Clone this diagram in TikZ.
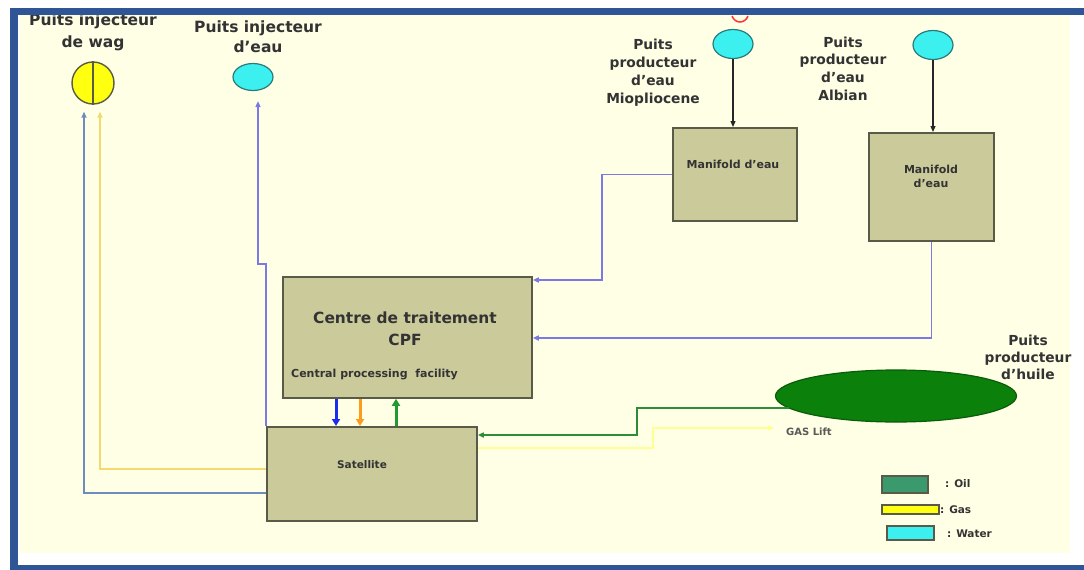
\documentclass[tikz,border=0pt]{standalone}
\usepackage{fontspec}
\setmainfont{DejaVu Sans}
\usetikzlibrary{arrows.meta,calc,shapes.geometric}

\definecolor{frameblue}{HTML}{2F5597}
\definecolor{cream}{HTML}{FFFFE6}
\definecolor{boxfill}{HTML}{CBCA9B}
\definecolor{boxline}{HTML}{5A5A48}
\definecolor{wellcyan}{HTML}{3CF0F0}
\definecolor{wellcyanline}{HTML}{2A7A7A}
\definecolor{wagyellow}{HTML}{FFFF10}
\definecolor{oilgreen}{HTML}{0B800B}
\definecolor{oilline}{HTML}{0A5C0A}
\definecolor{waterline}{HTML}{7B78E8}
\definecolor{steelline}{HTML}{6E8CC0}
\definecolor{gasline}{HTML}{F2DA6E}
\definecolor{liftline}{HTML}{FFFF90}
\definecolor{greenline}{HTML}{2E8B3A}
\definecolor{txt}{HTML}{333333}
\definecolor{legendoil}{HTML}{3A9A6E}
\definecolor{pumpblue}{HTML}{1A2CF0}
\definecolor{pumporange}{HTML}{FF9A1A}
\definecolor{pumpgreen}{HTML}{229A33}

\tikzset{
  procbox/.style={draw=boxline, line width=1.8pt, fill=boxfill, inner sep=0pt, anchor=north west},
  wellcyan/.style={ellipse, draw=wellcyanline, line width=1.2pt, fill=wellcyan, inner sep=0pt},
  lbl/.style={text=txt, font=\bfseries, align=center, inner sep=0pt, anchor=base},
  thinhead/.style={-{Triangle[length=6pt,width=5pt]}},
  wline/.style={draw=waterline, line width=1.5pt, thinhead},
  steelflow/.style={draw=steelline, line width=2pt, thinhead},
  gasflow/.style={draw=gasline, line width=2.5pt, thinhead},
  liftflow/.style={draw=liftline, line width=2pt, thinhead},
  oilflow/.style={draw=greenline, line width=2.2pt, thinhead},
  wellfeed/.style={draw=black!85, line width=1.2pt, thinhead},
  bigflow/.style={line width=3pt, -{Triangle[length=7pt,width=8pt]}},
  legendbox/.style={draw=boxline, line width=1.5pt, inner sep=0pt}
}

\begin{document}
\begin{tikzpicture}[x=1pt, y=-1pt]
\useasboundingbox (0,0) rectangle (1084,570);
\fill[white] (0,0) rectangle (1084,570);

\begin{scope}
\clip (18,15) rectangle (1074,565);
\fill[cream] (20,15) rectangle (1070,553);

% remnant of a shape above the sheet edge
\draw[red!80, line width=1.5pt] (732,16) .. controls (735,24) and (745,24) .. (748,16);

% process boxes
\node[procbox, minimum width=124pt, minimum height=93pt] (m1) at (672,127) {};
\node[procbox, minimum width=125pt, minimum height=108pt] (m2) at (868,132) {};
\node[procbox, minimum width=249pt, minimum height=121pt] (cpf) at (282,276) {};
\node[procbox, minimum width=210pt, minimum height=94pt] (sat) at (266,426) {};

% wells
\node[circle, draw=boxline, line width=1.4pt, fill=wagyellow, minimum size=42pt, inner sep=0pt] (wag) at (93,83) {};
\draw[boxline, line width=1.4pt] (wag.north) -- (wag.south);
\node[wellcyan, minimum width=40pt, minimum height=27pt] (winj) at (253,77) {};
\node[wellcyan, minimum width=40pt, minimum height=29pt] (wmio) at (733,44) {};
\node[wellcyan, minimum width=40pt, minimum height=29pt] (walb) at (933,45) {};
\node[ellipse, draw=oilline, line width=1.2pt, fill=oilgreen, minimum width=241pt, minimum height=52pt, inner sep=0pt] (oil) at (896,396) {};

% labels (base anchor sits on the last line)
\node[lbl, font=\bfseries\fontsize{15.5}{22}\selectfont] (twag) at (93,47) {Puits injecteur\\de wag};
\node[lbl, font=\bfseries\fontsize{15.5}{19.5}\selectfont] (twinj) at (258,52) {Puits injecteur\\d'eau};
\node[lbl, font=\bfseries\fontsize{13.8}{17.8}\selectfont] (tmio) at (653,103) {Puits\\producteur\\d'eau\\Miopliocene};
\node[lbl, font=\bfseries\fontsize{13.8}{17.6}\selectfont] (talb) at (843,100) {Puits\\producteur\\d'eau\\Albian};
\node[lbl, font=\bfseries\fontsize{13.8}{17}\selectfont] (toil) at (1028,379) {Puits\\producteur\\d'huile};
\node[lbl, font=\bfseries\fontsize{11}{14}\selectfont] (tm1) at (733,168) {Manifold d'eau};
\node[lbl, font=\bfseries\fontsize{11}{14}\selectfont] (tm2) at (931,187) {Manifold\\d'eau};
\node[lbl, font=\bfseries\fontsize{15.4}{22}\selectfont] (tcpf) at (405,345) {Centre de traitement\\CPF};
\node[lbl, font=\bfseries\fontsize{11}{14}\selectfont, anchor=base west] (tcpf2) at (291,377) {Central processing\ \ facility};
\node[lbl, font=\bfseries\fontsize{10.5}{14}\selectfont] (tsat) at (362,468) {Satellite};
\node[lbl, font=\bfseries\fontsize{10}{14}\selectfont, anchor=base west, text=black!65] (tlift) at (786,435) {GAS Lift};

% legend
\node[legendbox, fill=legendoil, minimum width=46pt, minimum height=17pt, anchor=north west] (koil) at (881,475) {};
\node[legendbox, fill=wagyellow, minimum width=57pt, minimum height=9pt, anchor=north west] (kgas) at (881,504) {};
\node[legendbox, fill=wellcyan, minimum width=47pt, minimum height=14pt, anchor=north west] (kwat) at (886,525) {};
\node[lbl, font=\bfseries\fontsize{10.5}{14}\selectfont, anchor=base west] (loil) at (945,487) {: Oil};
\node[lbl, font=\bfseries\fontsize{10.5}{14}\selectfont, anchor=base west] (lgas) at (940,513) {: Gas};
\node[lbl, font=\bfseries\fontsize{10.5}{14}\selectfont, anchor=base west] (lwat) at (947,537) {: Water};

% water production lines
\draw[wellfeed] (wmio.south) -- (wmio.south |- m1.north);
\draw[wellfeed] (walb.south) -- (walb.south |- m2.north);
\draw[wline] (m1.west) -- ++(-70,0) |- ($(cpf.north east)+(0,4)$);
\draw[wline] (m2.south) |- ($(cpf.north east)+(0,62)$);

% injection lines
\draw[wline] (sat.north west) -- ++(0,-162) -| ([xshift=5pt,yshift=-10pt]winj.south);
\draw[steelflow] ($(sat.north west)+(0,67)$) -| ([xshift=-9pt,yshift=-7pt]wag.south);
\draw[gasflow] ($(sat.north west)+(0,43)$) -| ([xshift=7pt,yshift=-7pt]wag.south);

% CPF / satellite exchanges
\draw[bigflow, pumpblue] ($(cpf.south west)+(54,0)$) -- ($(sat.north west)+(70,0)$);
\draw[bigflow, pumporange] ($(cpf.south west)+(78,0)$) -- ($(sat.north west)+(94,0)$);
\draw[bigflow, pumpgreen] ($(sat.north west)+(130,0)$) -- ($(cpf.south west)+(114,0)$);

% oil gathering and gas lift
\draw[oilflow] ($(oil.center)+(-107,12)$) -- ++(-152,0) |- ($(sat.north east)+(0,9)$);
\coordinate (gl) at (774,428);
\draw[liftflow] ($(sat.north east)+(0,22)$) -- ++(175,0) |- (gl);
\end{scope}

% sheet frame
\draw[frameblue, line width=7pt] (14,11.5) -- (1084,11.5);
\draw[frameblue, line width=8pt] (14,8) -- (14,570);
\draw[frameblue, line width=6pt] (10,568) -- (1084,568);
\end{tikzpicture}
\end{document}
